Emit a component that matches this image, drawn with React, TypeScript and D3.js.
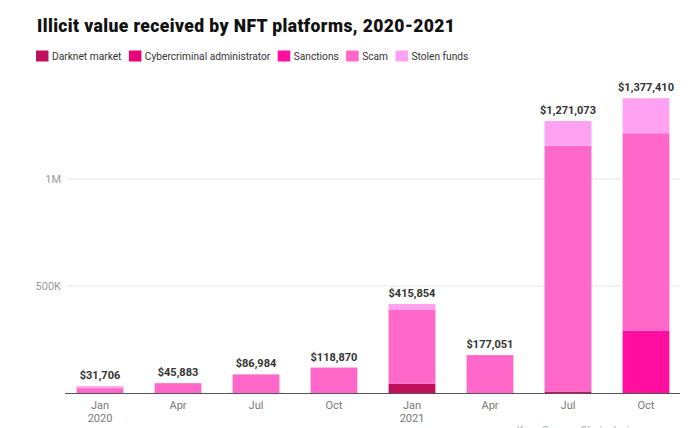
import React, { useEffect, useRef } from "react";
import * as d3 from "d3";

const periods = ["Jan 2020", "Apr 2020", "Jul 2020", "Oct 2020", "Jan 2021", "Apr 2021", "Jul 2021", "Oct 2021"];
const tickMonth = ["Jan", "Apr", "Jul", "Oct", "Jan", "Apr", "Jul", "Oct"];
const tickYear = ["2020", "", "", "", "2021", "", "", ""];
const seriesNames = ["Darknet market", "Cybercriminal administrator", "Sanctions", "Scam", "Stolen funds"];
const seriesColors = ["#c0105c", "#e8037a", "#ff0ea0", "#ff67c8", "#ffa2f2"];

const darknet = [0, 0, 0, 0, 44000, 0, 7000, 0];
const cybercriminal = [0, 0, 0, 0, 0, 0, 0, 0];
const sanctions = [0, 0, 0, 0, 0, 0, 0, 290000];
const scam = [22706, 45883, 86984, 118870, 346854, 177051, 1149073, 923910];
const stolen = [9000, 0, 0, 0, 25000, 0, 115000, 163500];
const totals = [31706, 45883, 86984, 118870, 415854, 177051, 1271073, 1377410];
const yTicks = [500000, 1000000];
const yTickLabels = ["500K", "1M"];

const W = 700;
const H = 428;
const FONT = "Roboto, 'Noto Sans', Arial, sans-serif";

export default function App() {
  const ref = useRef<SVGSVGElement | null>(null);

  useEffect(() => {
    const svg = d3.select(ref.current);
    svg.selectAll("*").remove();

    const x = d3.scaleBand<string>().domain(periods).range([61, 685]).paddingInner(0.4).paddingOuter(0.2);
    const y = d3.scaleLinear().domain([0, 1000000]).range([393, 179]);

    // title
    svg.append("text").attr("x", 37).attr("y", 32).attr("font-family", FONT).attr("font-weight", 900)
      .attr("font-size", 17.5).attr("fill", "#111").attr("textLength", 418).attr("lengthAdjust", "spacing")
      .text("Illicit value received by NFT platforms, 2020-2021");

    // legend
    let lx = 36;
    seriesNames.forEach((name, i) => {
      const g = svg.append("g");
      g.append("rect").attr("x", lx).attr("y", 50.5).attr("width", 12.5).attr("height", 11).attr("fill", seriesColors[i]);
      const t = g.append("text").attr("x", lx + 16).attr("y", 59.5).attr("font-family", FONT).attr("font-size", 10.2)
        .attr("fill", "#333").text(name);
      const w = (t.node() as SVGTextElement).getComputedTextLength();
      lx += 16 + w + 7.4;
    });

    // gridlines
    const grid = svg.append("g");
    yTicks.forEach((v, i) => {
      grid.append("line").attr("x1", 67).attr("x2", 680).attr("y1", y(v)).attr("y2", y(v))
        .attr("stroke", "#e6e6e6").attr("stroke-width", 1);
      grid.append("text").attr("x", 61).attr("y", y(v) + 4).attr("text-anchor", "end").attr("font-family", FONT)
        .attr("font-size", 11).attr("fill", "#9a9a9a").text(yTickLabels[i]);
    });

    // stacked bars
    const rows = periods.map((p, i) => ({
      period: p,
      "Darknet market": darknet[i],
      "Cybercriminal administrator": cybercriminal[i],
      Sanctions: sanctions[i],
      Scam: scam[i],
      "Stolen funds": stolen[i],
    }));
    const stack = d3.stack<any>().keys(seriesNames)(rows);
    stack.forEach((layer, li) => {
      svg.append("g").attr("fill", seriesColors[li]).selectAll("rect").data(layer).join("rect")
        .attr("x", (d: any) => x(d.data.period)!)
        .attr("width", x.bandwidth())
        .attr("y", (d: any) => y(d[1]))
        .attr("height", (d: any) => Math.max(0, y(d[0]) - y(d[1])));
    });

    // axis line
    svg.append("line").attr("x1", 65).attr("x2", 680).attr("y1", 393.5).attr("y2", 393.5)
      .attr("stroke", "#555").attr("stroke-width", 1);

    // total labels
    svg.append("g").selectAll("text").data(totals).join("text")
      .attr("x", (_d, i) => x(periods[i])! + x.bandwidth() / 2)
      .attr("y", (d) => y(d) - 7)
      .attr("text-anchor", "middle").attr("font-family", FONT).attr("font-weight", 700)
      .attr("font-size", 11).attr("fill", "#333")
      .text((d) => "$" + d3.format(",")(d));

    // x tick labels
    periods.forEach((p, i) => {
      const cx = x(p)! + x.bandwidth() / 2;
      svg.append("text").attr("x", cx).attr("y", 408.5).attr("text-anchor", "middle").attr("font-family", FONT)
        .attr("font-size", 11).attr("fill", "#777").text(tickMonth[i]);
      if (tickYear[i]) {
        svg.append("text").attr("x", cx).attr("y", 421.5).attr("text-anchor", "middle").attr("font-family", FONT)
          .attr("font-size", 11).attr("fill", "#777").text(tickYear[i]);
      }
    });

    // cut-off source line (cropped at the bottom edge in the reference)
    svg.append("text").attr("x", 516).attr("y", 434).attr("font-family", FONT).attr("font-size", 11)
      .attr("font-style", "italic").attr("fill", "#aaa").text("Key  ·  Source: Chainalysis");
  }, []);

  return (
    <svg ref={ref} width={W} height={H} style={{ position: "absolute", left: 0, top: 0, background: "#fff" }} />
  );
}
